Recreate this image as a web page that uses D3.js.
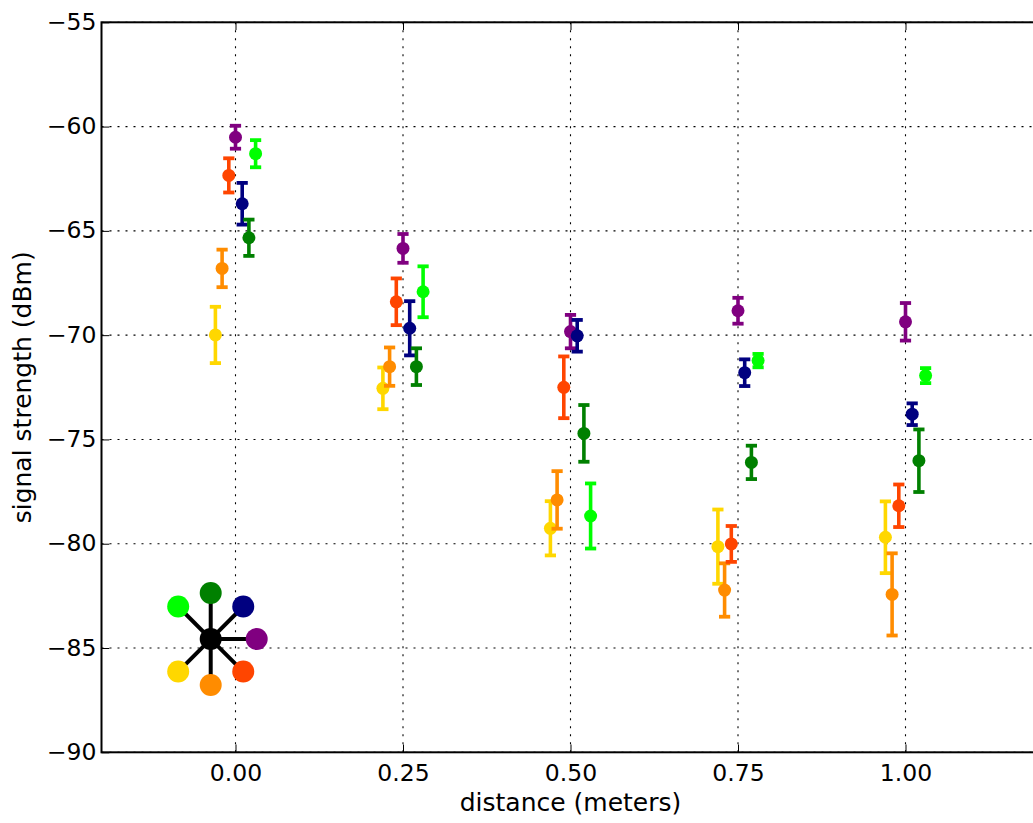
<!DOCTYPE html>
<html>
<head>
<meta charset="utf-8">
<script src="https://cdn.jsdelivr.net/npm/d3@7"></script>
<style>
  html, body { margin: 0; padding: 0; background: #fff; }
  svg { display: block; font-family: "DejaVu Sans", sans-serif; }
</style>
</head>
<body>
<svg id="chart" width="1033" height="823"></svg>
<script>
// Distances at which the measurements were taken (meters)
const distances = [0, 0.25, 0.5, 0.75, 1.0];

// Antenna directions (degrees, counter-clockwise from the right) and their colours
const angles = [225, 270, 315, 0, 45, 90, 135];
const colors = ["#FFD700", "#FF8C00", "#FF4500", "#800080", "#000080", "#008000", "#00FF00"];
// Horizontal jitter so the series do not sit on top of each other
const offsets = [-0.03, -0.02, -0.01, 0, 0.01, 0.02, 0.03];

// Mean signal strength (dBm) per antenna, one value per distance
const meanGold       = [-69.99, -72.55, -79.26, -80.14, -79.69];
const meanDarkOrange = [-66.80, -71.51, -77.90, -82.22, -82.43];
const meanOrangeRed  = [-62.34, -68.40, -72.50, -80.01, -78.18];
const meanPurple     = [-60.51, -65.84, -69.83, -68.83, -69.36];
const meanNavy       = [-63.70, -69.67, -70.03, -71.80, -73.79];
const meanGreen      = [-65.33, -71.51, -74.71, -76.10, -76.02];
const meanLime       = [-61.30, -67.92, -78.67, -71.22, -71.94];

// Standard deviation (dBm) per antenna, one value per distance
const sdGold       = [1.35, 1.00, 1.30, 1.78, 1.72];
const sdDarkOrange = [0.90, 0.92, 1.38, 1.28, 1.97];
const sdOrangeRed  = [0.82, 1.12, 1.48, 0.86, 1.02];
const sdPurple     = [0.55, 0.69, 0.80, 0.62, 0.90];
const sdNavy       = [1.00, 1.30, 0.76, 0.64, 0.52];
const sdGreen      = [0.87, 0.88, 1.36, 0.80, 1.50];
const sdLime       = [0.65, 1.22, 1.56, 0.32, 0.36];

const xTicks = [0, 0.25, 0.5, 0.75, 1.0];
const yTicks = [-55, -60, -65, -70, -75, -80, -85, -90];
const xDomain = [-0.2, 1.2];
const yDomain = [-90, -55];

const means = [meanGold, meanDarkOrange, meanOrangeRed, meanPurple, meanNavy, meanGreen, meanLime];
const sds   = [sdGold, sdDarkOrange, sdOrangeRed, sdPurple, sdNavy, sdGreen, sdLime];

const series = colors.map((c, i) => ({
  color: c,
  angle: angles[i],
  offset: offsets[i],
  points: distances.map((d, j) => ({ x: d + offsets[i], y: means[i][j], e: sds[i][j] }))
}));

const margin = { left: 101.5, top: 22.3, right: 1039.5, bottom: 752.3 };
const svg = d3.select("#chart");

const x = d3.scaleLinear().domain(xDomain).range([margin.left, margin.right]);
const y = d3.scaleLinear().domain(yDomain).range([margin.bottom, margin.top]);

const fontSize = 23.5;
const titleSize = 25;
const tickLen = 7.8;

// Dotted grid
const grid = svg.append("g");
grid.selectAll("line.gx").data(xTicks).join("line")
  .attr("x1", d => x(d)).attr("x2", d => x(d))
  .attr("y1", margin.top).attr("y2", margin.bottom)
  .attr("stroke", "#000").attr("stroke-width", 1.1).attr("stroke-dasharray", "2,6");
grid.selectAll("line.gy").data(yTicks).join("line")
  .attr("y1", d => y(d)).attr("y2", d => y(d))
  .attr("x1", margin.left).attr("x2", margin.right)
  .attr("stroke", "#000").attr("stroke-width", 1.1).attr("stroke-dasharray", "2,6");

// Axes: inward ticks, labels placed by hand
const xAxis = d3.axisBottom(x).tickValues(xTicks).tickSize(-tickLen).tickFormat(d3.format(".2f"));
const gx = svg.append("g").attr("transform", `translate(0,${margin.bottom})`).call(xAxis);
gx.select(".domain").remove();
gx.selectAll(".tick line").attr("stroke", "#000").attr("stroke-width", 1);
gx.selectAll(".tick text")
  .attr("y", 28.7).attr("dy", null)
  .attr("font-size", fontSize).attr("font-family", "DejaVu Sans").attr("fill", "#000");

const xAxisTop = d3.axisTop(x).tickValues(xTicks).tickSize(-tickLen).tickFormat("");
const gxt = svg.append("g").attr("transform", `translate(0,${margin.top})`).call(xAxisTop);
gxt.select(".domain").remove();
gxt.selectAll(".tick line").attr("stroke", "#000").attr("stroke-width", 1);

const yAxis = d3.axisLeft(y).tickValues(yTicks).tickSize(-tickLen).tickFormat(d3.format("d"));
const gy = svg.append("g").attr("transform", `translate(${margin.left},0)`).call(yAxis);
gy.select(".domain").remove();
gy.selectAll(".tick line").attr("stroke", "#000").attr("stroke-width", 1);
gy.selectAll(".tick text")
  .attr("x", -5).attr("dy", "0.3em").attr("text-anchor", "end")
  .attr("font-size", fontSize).attr("font-family", "DejaVu Sans").attr("fill", "#000");

// Spines
svg.append("rect")
  .attr("x", margin.left).attr("y", margin.top)
  .attr("width", margin.right - margin.left).attr("height", margin.bottom - margin.top)
  .attr("fill", "none").attr("stroke", "#000").attr("stroke-width", 2);

// Axis titles
svg.append("text")
  .attr("x", (margin.left + margin.right) / 2).attr("y", 811)
  .attr("text-anchor", "middle").attr("font-size", titleSize)
  .text("distance (meters)");
svg.append("text")
  .attr("transform", `translate(31,${(margin.top + margin.bottom) / 2}) rotate(-90)`)
  .attr("text-anchor", "middle").attr("font-size", titleSize)
  .text("signal strength (dBm)");

// Error bars with caps, then the mean markers
const capHalf = 5.6;
const seriesG = svg.append("g").selectAll("g").data(series).join("g");
seriesG.each(function (s) {
  const g = d3.select(this);
  g.selectAll("line.bar").data(s.points).join("line").attr("class", "bar")
    .attr("x1", d => x(d.x)).attr("x2", d => x(d.x))
    .attr("y1", d => y(d.y - d.e)).attr("y2", d => y(d.y + d.e))
    .attr("stroke", s.color).attr("stroke-width", 3.6);
  g.selectAll("line.capTop").data(s.points).join("line").attr("class", "capTop")
    .attr("x1", d => x(d.x) - capHalf).attr("x2", d => x(d.x) + capHalf)
    .attr("y1", d => y(d.y + d.e)).attr("y2", d => y(d.y + d.e))
    .attr("stroke", s.color).attr("stroke-width", 3.8);
  g.selectAll("line.capBot").data(s.points).join("line").attr("class", "capBot")
    .attr("x1", d => x(d.x) - capHalf).attr("x2", d => x(d.x) + capHalf)
    .attr("y1", d => y(d.y - d.e)).attr("y2", d => y(d.y - d.e))
    .attr("stroke", s.color).attr("stroke-width", 3.8);
  g.selectAll("circle").data(s.points).join("circle")
    .attr("cx", d => x(d.x)).attr("cy", d => y(d.y))
    .attr("r", 6.5).attr("fill", s.color);
});

// Antenna-direction key: a hub with a spoke to each coloured antenna
const keyX = x(-0.037), keyY = y(-84.57);
const spoke = 46, dotR = 11;
const key = svg.append("g").attr("transform", `translate(${keyX},${keyY})`);
key.selectAll("line").data(series).join("line")
  .attr("x1", 0).attr("y1", 0)
  .attr("x2", d => spoke * Math.cos(d.angle * Math.PI / 180))
  .attr("y2", d => -spoke * Math.sin(d.angle * Math.PI / 180))
  .attr("stroke", "#000").attr("stroke-width", 4);
key.selectAll("circle.ant").data(series).join("circle").attr("class", "ant")
  .attr("cx", d => spoke * Math.cos(d.angle * Math.PI / 180))
  .attr("cy", d => -spoke * Math.sin(d.angle * Math.PI / 180))
  .attr("r", dotR).attr("fill", d => d.color);
key.append("circle").attr("r", dotR).attr("fill", "#000");
</script>
</body>
</html>
